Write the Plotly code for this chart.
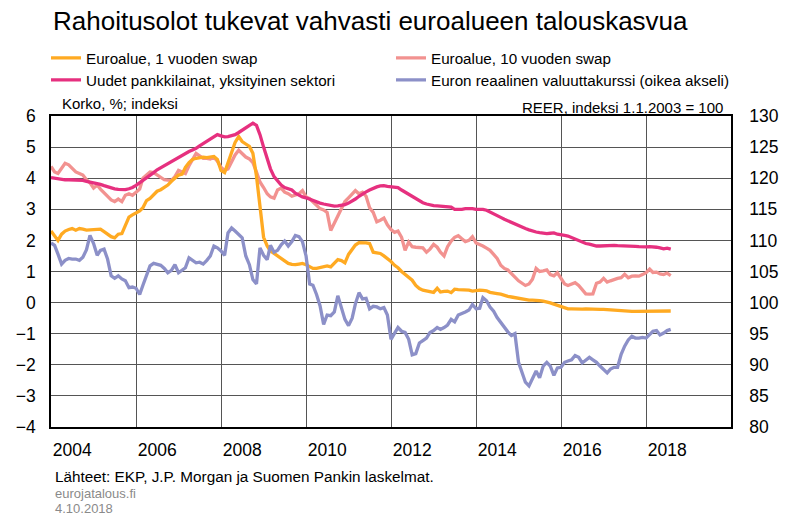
import pandas as pd
import plotly.graph_objects as go

# ---------------- data (monthly, Jan 2004 - Aug 2018) ----------------
start_month = "2004-01-01"

swap_1y = [
    2.3, 2.12, 2.0, 2.2, 2.3, 2.35, 2.38, 2.33, 2.38, 2.36, 2.33, 2.34,
    2.35, 2.36, 2.36, 2.28, 2.2, 2.12, 2.08, 2.2, 2.22, 2.5, 2.75, 2.82,
    2.88, 2.95, 3.05, 3.28, 3.35, 3.45, 3.58, 3.63, 3.7, 3.78, 3.9, 4.0,
    4.1, 4.13, 4.35, 4.5, 4.6, 4.64, 4.66, 4.68, 4.66, 4.68, 4.7, 4.6,
    4.25, 4.18, 4.5, 4.9, 5.15, 5.34, 5.18, 5.1, 5.02, 4.8, 4.06, 3.1,
    2.1, 1.82, 1.66, 1.58, 1.5, 1.44, 1.35, 1.26, 1.23, 1.22, 1.24, 1.26,
    1.22, 1.15, 1.1, 1.1, 1.12, 1.15, 1.18, 1.15, 1.25, 1.38, 1.35, 1.28,
    1.55, 1.7, 1.85, 1.93, 1.93, 1.92, 1.9, 1.62, 1.6, 1.58, 1.5, 1.42,
    1.32, 1.2, 1.12, 1.0, 0.9, 0.83, 0.72, 0.55, 0.45, 0.4, 0.38, 0.35,
    0.33, 0.46, 0.34, 0.36, 0.37, 0.32, 0.43, 0.42, 0.42, 0.42, 0.4, 0.37,
    0.39, 0.4, 0.39, 0.38, 0.33, 0.3, 0.29, 0.27, 0.23, 0.2, 0.18, 0.16,
    0.13, 0.1, 0.09, 0.08, 0.08, 0.08, 0.06, 0.05, 0.03, -0.01, -0.05, -0.09,
    -0.12, -0.16, -0.2, -0.2, -0.21, -0.21, -0.21, -0.2, -0.21, -0.21, -0.21, -0.22,
    -0.22, -0.23, -0.24, -0.25, -0.25, -0.26, -0.26, -0.27, -0.28, -0.28, -0.28, -0.28,
    -0.28, -0.28, -0.27, -0.27, -0.26, -0.27, -0.26, -0.27,
]

swap_10y = [
    4.38, 4.2, 4.15, 4.3, 4.48, 4.43, 4.32, 4.2, 4.15, 4.1, 3.95, 3.85,
    3.68, 3.78, 3.65, 3.52, 3.42, 3.3, 3.25, 3.33, 3.25, 3.45, 3.5, 3.45,
    3.55, 3.65, 4.0, 4.1, 4.2, 4.18, 4.1, 4.0, 3.95, 3.94, 3.93, 4.05,
    4.25, 4.2, 4.15, 4.4, 4.6, 4.8, 4.72, 4.64, 4.64, 4.62, 4.68, 4.55,
    4.35, 4.25, 4.3, 4.55, 4.75, 4.9, 4.8, 4.68, 4.62, 4.5, 4.2, 3.88,
    3.7, 3.5, 3.4, 3.36, 3.62, 3.68, 3.55, 3.5, 3.42, 3.45, 3.5, 3.6,
    3.4, 3.34, 3.25, 3.15, 3.02, 2.98, 2.9, 2.32, 2.55, 2.8, 3.05, 3.25,
    3.37, 3.5, 3.6, 3.5, 3.55, 3.42, 3.05, 2.9, 2.6, 2.65, 2.72, 2.5,
    2.35, 2.26, 2.3, 2.1, 1.68, 1.95, 1.8, 1.78, 1.78, 1.76, 1.62, 1.72,
    1.87, 1.78, 1.62, 1.5, 1.8, 1.98, 2.1, 2.15, 2.05, 1.96, 2.0, 2.12,
    1.92, 1.88, 1.82, 1.75, 1.68, 1.55, 1.42, 1.2, 1.1, 1.05, 0.95, 0.82,
    0.7, 0.63, 0.55, 0.6, 0.75, 1.1, 1.0, 1.02, 1.05, 0.9, 0.86, 0.96,
    0.78, 0.6, 0.55, 0.6, 0.64, 0.55, 0.4, 0.28, 0.27, 0.28, 0.62, 0.66,
    0.78, 0.66, 0.7, 0.75, 0.78, 0.8, 0.91, 0.8, 0.85, 0.86, 0.85, 0.9,
    0.96, 1.08, 0.97, 0.98, 0.92, 0.9, 0.95, 0.87,
]

bank_loans = [
    4.02, 4.0, 3.97, 3.95, 3.95, 3.95, 3.95, 3.95, 3.95, 3.93, 3.9, 3.88,
    3.85, 3.82, 3.8, 3.76, 3.72, 3.69, 3.66, 3.64, 3.63, 3.63, 3.66, 3.7,
    3.77, 3.85, 3.92, 4.0, 4.09, 4.18, 4.27, 4.34, 4.41, 4.48, 4.54, 4.6,
    4.67, 4.74, 4.8, 4.86, 4.91, 4.96, 5.04, 5.11, 5.18, 5.27, 5.34, 5.4,
    5.36, 5.33, 5.34, 5.37, 5.4, 5.47, 5.55, 5.63, 5.71, 5.77, 5.7, 5.4,
    5.0, 4.6, 4.3, 4.05, 3.9, 3.78, 3.7, 3.66, 3.62, 3.52, 3.45, 3.4,
    3.37, 3.32, 3.28, 3.24, 3.2, 3.17, 3.14, 3.12, 3.1, 3.11, 3.12, 3.15,
    3.2, 3.26, 3.33, 3.42, 3.5, 3.56, 3.62, 3.68, 3.72, 3.75, 3.76, 3.74,
    3.72, 3.72, 3.7, 3.62, 3.55, 3.49, 3.42, 3.33, 3.25, 3.21, 3.17, 3.14,
    3.12, 3.11, 3.1, 3.09, 3.08, 3.07, 3.0, 2.99, 3.0, 3.02, 3.03, 3.02,
    3.0, 3.0, 3.0, 2.97, 2.92, 2.86, 2.8, 2.74, 2.68, 2.63, 2.58, 2.51,
    2.45, 2.41, 2.38, 2.34, 2.3, 2.27, 2.25, 2.23, 2.22, 2.23, 2.24, 2.2,
    2.17, 2.16, 2.14, 2.09, 2.04, 1.98, 1.93, 1.9, 1.88, 1.85, 1.82, 1.82,
    1.83, 1.84, 1.85, 1.84, 1.83, 1.83, 1.83, 1.83, 1.82, 1.81, 1.8, 1.79,
    1.79, 1.8, 1.8, 1.78, 1.76, 1.73, 1.75, 1.72,
]

reer = [
    109.6, 109.2, 107.8, 106.2, 106.8, 107.1, 107.0, 107.0, 106.8, 107.3, 108.5, 110.8,
    109.5, 107.6, 108.4, 108.6, 107.0, 104.3, 103.9, 104.3, 103.8, 103.5, 102.4, 102.5,
    102.3, 101.3, 102.8, 104.5, 105.9, 106.3, 106.2, 106.0, 105.5, 104.8, 105.2, 106.1,
    104.8, 105.3, 105.6, 107.2, 106.8, 106.4, 106.5, 106.2, 106.8, 107.5, 109.1, 108.8,
    108.3, 107.6, 111.2, 112.0, 111.5, 111.0, 110.4, 107.5, 106.1, 103.7, 103.0, 108.8,
    107.6, 106.9, 109.2, 108.1, 108.4, 109.3, 109.9, 109.1, 109.8, 110.8, 110.6, 109.8,
    107.5, 103.0, 102.8, 101.3, 99.5, 96.5, 98.0, 97.9, 98.5, 101.1, 99.0, 97.3,
    96.3, 97.5, 99.8, 101.6, 100.6, 100.7, 99.0, 99.4, 99.3, 99.0, 99.2, 98.0,
    94.1, 95.0, 96.0, 95.4, 95.2, 94.1, 91.6, 91.8, 93.5, 93.9, 94.3, 95.2,
    95.5, 96.0, 95.7, 96.0, 96.4, 97.3, 96.9, 98.0, 98.2, 98.5, 98.8, 99.7,
    99.0, 99.1, 100.8, 100.3, 99.3, 98.6, 97.6, 96.8, 96.0, 95.3, 94.7, 95.0,
    90.4, 88.8, 87.2, 86.6, 87.8, 89.0, 87.9, 89.8, 90.4, 89.8, 88.3, 89.5,
    89.6, 90.4, 90.6, 90.8, 91.5, 91.2, 90.3, 90.8, 91.2, 90.8, 90.4, 89.8,
    89.3, 88.7, 89.3, 89.6, 89.6, 91.7, 93.0, 94.0, 94.6, 94.3, 94.3, 94.4,
    94.3, 94.8, 95.4, 95.5, 94.8, 95.1, 95.5, 95.7,
]

year_labels = ["2004", "2006", "2008", "2010", "2012", "2014", "2016", "2018"]
left_ticks = [-4, -3, -2, -1, 0, 1, 2, 3, 4, 5, 6]
right_ticks = [80, 85, 90, 95, 100, 105, 110, 115, 120, 125, 130]

names = [
    "Euroalue, 1 vuoden swap",
    "Euroalue, 10 vuoden swap",
    "Uudet pankkilainat, yksityinen sektori",
    "Euron reaalinen valuuttakurssi (oikea akseli)",
]
colors = ["#FFAA22", "#F29290", "#E6307F", "#8C90C8"]

dates = pd.date_range(start_month, periods=len(reer), freq="MS")

# ---------------- layout geometry helpers ----------------
W, H = 800, 523
PL, PR, PT, PB = 51, 731, 116, 427


def px_x(x):
    return (x - PL) / (PR - PL)


def px_y(y):
    return (PB - y) / (PB - PT)


FONT = "Liberation Sans, Arial, sans-serif"

fig = go.Figure()
lw = 3.3
fig.add_trace(go.Scatter(x=dates, y=reer, name=names[3], mode="lines",
                         line=dict(color=colors[3], width=lw), yaxis="y2",
                         legend="legend4"))
fig.add_trace(go.Scatter(x=dates, y=swap_10y, name=names[1], mode="lines",
                         line=dict(color=colors[1], width=lw),
                         legend="legend2"))
fig.add_trace(go.Scatter(x=dates, y=swap_1y, name=names[0], mode="lines",
                         line=dict(color=colors[0], width=lw),
                         legend="legend"))
fig.add_trace(go.Scatter(x=dates, y=bank_loans, name=names[2], mode="lines",
                         line=dict(color=colors[2], width=lw),
                         legend="legend3"))

label_pos = [f"{y}-07-02" for y in year_labels]
grid_col = "#555555"


def legend_box(x_text, y_center):
    return dict(x=px_x(x_text - 40), y=px_y(y_center), xanchor="left",
                yanchor="middle", orientation="v", itemwidth=30,
                font=dict(family=FONT, size=15.2, color="black"),
                bgcolor="rgba(0,0,0,0)")


fig.update_layout(
    width=W, height=H,
    margin=dict(l=PL, r=W - PR, t=PT, b=H - PB, pad=0, autoexpand=False),
    paper_bgcolor="white", plot_bgcolor="white",
    font=dict(family=FONT, size=17.5, color="black"),
    title=dict(text="Rahoitusolot tukevat vahvasti euroalueen talouskasvua",
               xref="container", yref="container", x=53 / W, xanchor="left",
               y=1 - 21 / H, yanchor="middle",
               font=dict(family=FONT, size=26, color="black")),
    xaxis=dict(type="date", range=["2004-01-01", "2020-01-01"],
               tickmode="array", tickvals=label_pos, ticktext=year_labels,
               showgrid=False, ticks="outside", ticklen=6,
               tickcolor="rgba(0,0,0,0)",
               showline=True, linecolor="black", linewidth=1.5, mirror=True,
               zeroline=False, automargin=False,
               minor=dict(tickmode="linear", tick0="2004-01-01", dtick="M24",
                          showgrid=True, gridcolor=grid_col, gridwidth=1,
                          ticks="")),
    yaxis=dict(range=[-4, 6], tickmode="array", tickvals=left_ticks,
               showgrid=True, gridcolor=grid_col, gridwidth=1, zeroline=False,
               ticks="outside", ticklen=10, tickcolor="rgba(0,0,0,0)",
               automargin=False,
               showline=True, linecolor="black", linewidth=1.5, mirror=True),
    yaxis2=dict(range=[80, 130], tickmode="array", tickvals=right_ticks,
                overlaying="y", side="right", showgrid=False, zeroline=False,
                ticks="outside", ticklen=13, tickcolor="rgba(0,0,0,0)",
                automargin=False,
                showline=True, linecolor="black", linewidth=1.5),
    legend=legend_box(86, 58),
    legend3=legend_box(86, 80),
    legend2=legend_box(431, 58),
    legend4=legend_box(431, 80),
    showlegend=True,
)

annos = [
    dict(text="Korko, %; indeksi", x=px_x(60), y=px_y(104), xanchor="left",
         font=dict(size=15)),
    dict(text="REER, indeksi 1.1.2003 = 100", x=px_x(725), y=px_y(107),
         xanchor="right", font=dict(size=15)),
    dict(text="Lähteet: EKP, J.P. Morgan ja Suomen Pankin laskelmat.",
         x=px_x(53), y=px_y(476), xanchor="left", font=dict(size=15.3)),
    dict(text="eurojatalous.fi", x=px_x(53), y=px_y(493), xanchor="left",
         font=dict(size=13, color="#8a8a8a")),
    dict(text="4.10.2018", x=px_x(53), y=px_y(508), xanchor="left",
         font=dict(size=13, color="#8a8a8a")),
]
for a in annos:
    fig.add_annotation(xref="paper", yref="paper", yanchor="middle",
                       showarrow=False, **a)

fig.write_html("out.html", config={"displayModeBar": False},
               post_script="document.body.style.margin='0';")
